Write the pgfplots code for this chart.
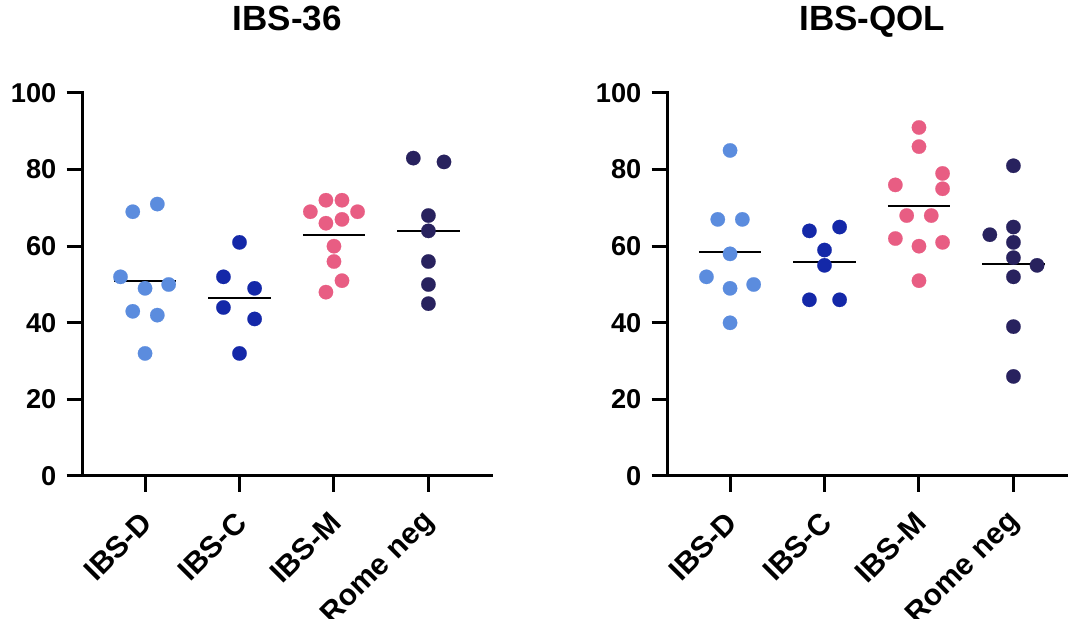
\documentclass[border=0pt]{standalone}
\usepackage{pgfplots}
\pgfplotsset{compat=1.18}
\usepackage{fontspec}
\setmainfont{Liberation Sans}
\definecolor{cD}{HTML}{5B8CDE}
\definecolor{cC}{HTML}{1428A8}
\definecolor{cM}{HTML}{E85D83}
\definecolor{cR}{HTML}{28225E}
\pgfplotsset{
  prism/.style={
    scale only axis,
    width=204.5pt, height=191.5pt,
    xmin=0.34, xmax=4.67, ymin=0, ymax=100,
    axis x line*=bottom, axis y line*=left,
    axis line style={-, line width=1.5pt, line cap=rect},
    tick align=outside, major tick length=8pt,
    every tick/.style={black, line width=1.5pt},
    xtick={1,2,3,4},
    xticklabels={IBS-D,IBS-C,IBS-M,Rome neg},
    ytick={0,20,40,60,80,100},
    /pgf/number format/assume math mode=true,
    yticklabel style={font=\bfseries\fontsize{13.6}{15}\selectfont, inner sep=2pt, xshift=-3pt},
    xticklabel style={font=\bfseries\fontsize{15}{17}\selectfont, rotate=45, anchor=east, inner sep=1pt, xshift=-7.3pt, yshift=-9.6pt},
    title style={font=\bfseries\fontsize{17.5}{20}\selectfont, anchor=base, at={(0.5,1)}, yshift=25pt},
    clip=false,
  },
  dots/.style={only marks, mark=*, mark size=3.6pt, mark options={draw=#1, fill=#1, line width=0.1pt}},
  meanl/.style={black, line width=1pt, no marks},
}
\begin{document}
\begin{tikzpicture}
\begin{axis}[prism, at={(41.35pt,71.5pt)}, anchor=south west, title={IBS-36}]
\addplot[meanl] coordinates {(0.67,51) (1.33,51)};
\addplot[meanl] coordinates {(1.67,46.5) (2.33,46.5)};
\addplot[meanl] coordinates {(2.67,63) (3.33,63)};
\addplot[meanl] coordinates {(3.67,64) (4.33,64)};
\addplot[dots=cD] coordinates {(0.87,69) (1.13,71) (0.74,52) (1,49) (1.25,50) (0.87,43) (1.13,42) (1,32)};
\addplot[dots=cC] coordinates {(2,61) (1.83,52) (2.16,49) (1.83,44) (2.16,41) (2,32)};
\addplot[dots=cM] coordinates {(2.915,72) (3.085,72) (2.75,69) (3.25,69) (2.915,66) (3.085,67) (3,60) (3,56) (3.085,51) (2.915,48)};
\addplot[dots=cR] coordinates {(3.84,83) (4.165,82) (4,68) (4,64) (4,56) (4,50) (4,45)};
\end{axis}
\begin{axis}[prism, at={(333.85pt,71.5pt)}, anchor=south west, title={IBS-QOL}]
\addplot[meanl] coordinates {(0.67,58.5) (1.33,58.5)};
\addplot[meanl] coordinates {(1.67,55.8) (2.33,55.8)};
\addplot[meanl] coordinates {(2.67,70.6) (3.33,70.6)};
\addplot[meanl] coordinates {(3.67,55.4) (4.33,55.4)};
\addplot[dots=cD] coordinates {(1,85) (0.87,67) (1.13,67) (1,58) (0.75,52) (1,49) (1.25,50) (1,40)};
\addplot[dots=cC] coordinates {(1.84,64) (2.16,65) (2,59) (2,55) (1.84,46) (2.16,46)};
\addplot[dots=cM] coordinates {(3,91) (3,86) (3.25,79) (2.75,76) (3.25,75) (2.87,68) (3.13,68) (2.75,62) (3,60) (3.25,61) (3,51)};
\addplot[dots=cR] coordinates {(4,81) (3.75,63) (4,65) (4,61) (4,57) (4.25,55) (4,52) (4,39) (4,26)};
\end{axis}
\pgfresetboundingbox
\path[use as bounding box] (0,0) rectangle (534pt,309.5pt);
\end{tikzpicture}
\end{document}
